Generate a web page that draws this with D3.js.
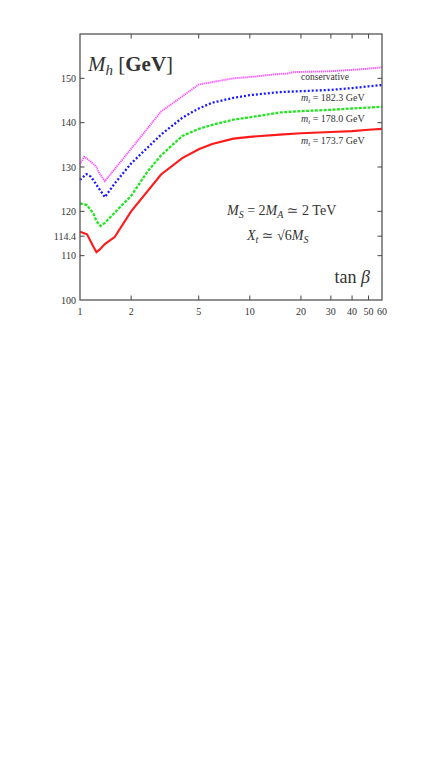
<!DOCTYPE html>
<html lang="en">
<head>
    <meta charset="UTF-8"/>
    <title>Mh vs tan beta</title>
    <script src="https://d3js.org/d3.v7.min.js"></script>
    <style>
        body, html {
            margin: 0;
            padding: 0;
            background: #fff;
        }
        svg text {
            font-family: "Liberation Serif", "DejaVu Serif", serif;
            fill: #333;
        }
    </style>
</head>
<body>
<svg id="chart" width="436" height="763"></svg>
<script>
    // tan beta tick values and Mh tick values
    const xTicks = [1, 2, 5, 10, 20, 30, 40, 50, 60];
    const yTicks = [100, 110, 114.4, 120, 130, 140, 150];

    // curves: [tan beta, Mh]
    const conservative = [
        [1, 130.6], [1.06, 132.3], [1.16, 131.2], [1.25, 130.0], [1.3, 128.6], [1.4, 126.8],
        [2, 134.1], [3, 142.5], [5, 148.6], [8, 150.0], [10, 150.3], [15, 151.0],
        [17, 151.1], [18, 151.4], [30, 151.6], [40, 151.9], [50, 152.2], [60, 152.5]
    ];
    const mt1823 = [
        [1, 127.1], [1.09, 128.4], [1.16, 127.8], [1.25, 126.0], [1.4, 123.2], [1.6, 126.3],
        [2, 130.8], [3, 137.3], [4, 141.1], [5, 143.2], [6, 144.5], [8, 145.6],
        [10, 146.2], [15, 146.9], [20, 147.1], [30, 147.4], [40, 147.8], [50, 148.2], [60, 148.5]
    ];
    const mt1780 = [
        [1, 121.8], [1.1, 121.4], [1.2, 119.5], [1.25, 117.8], [1.32, 116.7], [1.4, 117.4],
        [1.6, 119.7], [2, 123.5], [2.5, 129.0], [3, 132.6], [4, 137.0], [5, 138.6],
        [6, 139.5], [8, 140.7], [10, 141.2], [15, 142.3], [20, 142.6], [30, 142.9],
        [40, 143.2], [50, 143.4], [60, 143.6]
    ];
    const mt1737 = [
        [1, 115.4], [1.1, 114.8], [1.2, 112.0], [1.25, 110.8], [1.3, 111.3], [1.4, 112.6],
        [1.6, 114.2], [2, 120.0], [3, 128.3], [4, 132.0], [5, 134.0], [6, 135.2],
        [8, 136.4], [10, 136.8], [15, 137.3], [20, 137.6], [30, 137.9], [40, 138.1],
        [50, 138.4], [60, 138.6]
    ];

    const svg = d3.select("#chart");
    const m = {left: 80, right: 382, top: 34, bottom: 300};

    const x = d3.scaleLog().domain([1, 60]).range([m.left, m.right]);
    const y = d3.scaleLinear().domain([100, 160]).range([m.bottom, m.top]);

    const line = d3.line()
        .x(d => x(d[0]))
        .y(d => y(d[1]));

    // curves
    const curves = [
        {data: conservative, color: "#ff55ff", width: 1.9, dash: "1.3,0.7"},
        {data: mt1823, color: "#1a1aff", width: 2.3, dash: "2,2"},
        {data: mt1780, color: "#22e622", width: 2.3, dash: "3,1.4"},
        {data: mt1737, color: "#ff1a1a", width: 2.1, dash: null}
    ];
    curves.forEach(c => {
        svg.append("path")
            .datum(c.data)
            .attr("fill", "none")
            .attr("stroke", c.color)
            .attr("stroke-width", c.width)
            .attr("stroke-dasharray", c.dash)
            .attr("d", line);
    });

    // frame
    svg.append("rect")
        .attr("x", m.left)
        .attr("y", m.top)
        .attr("width", m.right - m.left)
        .attr("height", m.bottom - m.top)
        .attr("fill", "none")
        .attr("stroke", "#555")
        .attr("stroke-width", 1.3);

    // ticks (inward on all four sides)
    const tickLen = 4.5;
    const innerX = xTicks.filter(t => t > 1 && t < 60);
    const innerY = yTicks.filter(t => t > 100);
    innerX.forEach(t => {
        svg.append("line").attr("x1", x(t)).attr("x2", x(t))
            .attr("y1", m.bottom).attr("y2", m.bottom - tickLen)
            .attr("stroke", "#444").attr("stroke-width", 1);
        svg.append("line").attr("x1", x(t)).attr("x2", x(t))
            .attr("y1", m.top).attr("y2", m.top + tickLen)
            .attr("stroke", "#444").attr("stroke-width", 1);
    });
    innerY.forEach(t => {
        svg.append("line").attr("x1", m.left).attr("x2", m.left + tickLen)
            .attr("y1", y(t)).attr("y2", y(t))
            .attr("stroke", "#444").attr("stroke-width", 1);
        svg.append("line").attr("x1", m.right).attr("x2", m.right - tickLen)
            .attr("y1", y(t)).attr("y2", y(t))
            .attr("stroke", "#444").attr("stroke-width", 1);
    });

    // tick labels
    svg.selectAll(".xl")
        .data(xTicks)
        .enter()
        .append("text")
        .attr("x", d => x(d))
        .attr("y", m.bottom + 15)
        .attr("text-anchor", "middle")
        .attr("font-size", 10)
        .text(d => d);

    svg.selectAll(".yl")
        .data(yTicks)
        .enter()
        .append("text")
        .attr("x", m.left - 4)
        .attr("y", d => y(d) + 3.5)
        .attr("text-anchor", "end")
        .attr("font-size", 10)
        .text(d => d);

    // axis titles
    const title = svg.append("text")
        .attr("x", 88)
        .attr("y", 71)
        .attr("font-size", 21);
    title.append("tspan").attr("font-style", "italic").text("M");
    title.append("tspan").attr("font-style", "italic").attr("font-size", 15).attr("dy", 4).text("h");
    title.append("tspan").attr("dy", -4).text(" [");
    title.append("tspan").attr("font-weight", "bold").text("GeV");
    title.append("tspan").text("]");

    const xt = svg.append("text")
        .attr("x", 370)
        .attr("y", 283)
        .attr("text-anchor", "end")
        .attr("font-size", 18);
    xt.append("tspan").text("tan ");
    xt.append("tspan").attr("font-style", "italic").text("β");

    // curve labels
    svg.append("text").attr("x", 301).attr("y", 80).attr("font-size", 9.5).text("conservative");
    const mtLabels = [
        {v: "182.3", y: 101},
        {v: "178.0", y: 122},
        {v: "173.7", y: 144}
    ];
    mtLabels.forEach(l => {
        const t = svg.append("text").attr("x", 301).attr("y", l.y).attr("font-size", 10);
        t.append("tspan").attr("font-style", "italic").text("m");
        t.append("tspan").attr("font-style", "italic").attr("font-size", 7).attr("dy", 2).text("t");
        t.append("tspan").attr("dy", -2).text(" = " + l.v + " GeV");
    });

    // parameter annotation
    const a1 = svg.append("text").attr("x", 227).attr("y", 215).attr("font-size", 14);
    a1.append("tspan").attr("font-style", "italic").text("M");
    a1.append("tspan").attr("font-style", "italic").attr("font-size", 10).attr("dy", 3).text("S");
    a1.append("tspan").attr("dy", -3).text(" = 2");
    a1.append("tspan").attr("font-style", "italic").text("M");
    a1.append("tspan").attr("font-style", "italic").attr("font-size", 10).attr("dy", 3).text("A");
    a1.append("tspan").attr("dy", -3).text(" ≃ 2 TeV");

    const a2 = svg.append("text").attr("x", 247).attr("y", 240).attr("font-size", 14);
    a2.append("tspan").attr("font-style", "italic").text("X");
    a2.append("tspan").attr("font-style", "italic").attr("font-size", 10).attr("dy", 3).text("t");
    a2.append("tspan").attr("dy", -3).text(" ≃ √6");
    a2.append("tspan").attr("font-style", "italic").text("M");
    a2.append("tspan").attr("font-style", "italic").attr("font-size", 10).attr("dy", 3).text("S");
</script>
</body>
</html>
